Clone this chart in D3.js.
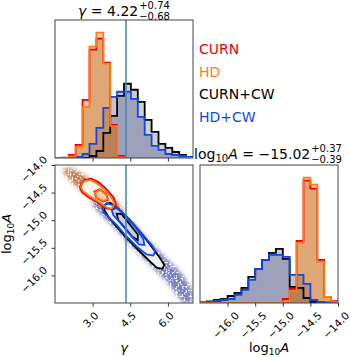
<!DOCTYPE html>
<html><head><meta charset="utf-8">
<script src="https://cdn.jsdelivr.net/npm/d3@7"></script>
<style>
body{margin:0;background:#fff}
svg text{font-family:"DejaVu Sans",sans-serif}
</style></head><body>
<svg id="chart" width="350" height="357"></svg>
<script>
// corner plot of gamma / log10A posteriors, four runs overlaid
const series = ['CURN', 'HD', 'CURN+CW', 'HD+CW'];
const lineColors = ['#e8000b', '#ff7a18', '#000000', '#1048e8'];
const fillColors = ['#c85a1e', '#c87a18', '#404040', '#34408e'];
const fillAlpha = [0.37, 0.37, 0.25, 0.32];

const gammaRange = [1.5, 7.0];
const logARange = [-16.5, -14.0];
const nBins = 20;
const gammaTicks = [3.0, 4.5, 6.0];
const logATicks = [-16.0, -15.5, -15.0, -14.5, -14.0];
const truthGamma = 4.33;

// 1D histogram heights (counts, arbitrary units), 20 bins each
const gammaCURN   = [0, 0.3, 3, 13, 58, 108, 119, 95, 33, 2, 0, 0, 0, 0, 0, 0, 0, 0, 0, 0];
const gammaHD     = [0, 0, 1.5, 11, 51, 111, 125, 94, 32, 0.7, 0, 0, 0, 0, 0, 0, 0, 0, 0, 0];
const gammaCURNCW = [0, 0, 0, 0, 0, 2, 7, 25, 42, 62, 74, 68, 56, 38, 26, 14, 10, 6, 3, 1];
const gammaHDCW   = [0, 0, 0, 1, 4, 14, 30, 50, 61, 66, 66, 59, 41, 23, 12, 8, 4, 3, 2, 1];

const logACURN   = [0, 0, 0, 0, 0, 0, 0, 0, 0, 0, 0, 0, 4, 14, 62, 122, 114, 43, 6, 2];
const logAHD     = [0, 0, 0, 0, 0, 0, 0, 0, 0, 0, 0, 0, 1.5, 12, 60, 125, 118, 41, 6, 1.5];
const logACURNCW = [0.5, 1.5, 3, 4, 7, 10, 15, 26, 34, 43, 50, 54, 44, 16, 15, 5, 1, 0.5, 0, 0];
const logAHDCW   = [0.5, 1, 2, 3, 4, 8, 13, 23, 34, 43, 48, 48, 46, 28, 28, 19, 3, 1, 0.5, 0];

// 2D panel: sample clouds and contour outlines, [gamma, log10A]
const cloudHD = [[1.87,-14.04],[2.30,-14.08],[2.83,-14.23],[3.49,-14.45],[4.02,-14.69],[4.36,-14.94],
  [4.30,-15.10],[4.02,-15.00],[3.63,-14.86],[3.09,-14.67],[2.56,-14.48],[2.10,-14.28],[1.83,-14.13]];
const cloudCW = [[3.09,-14.63],[3.89,-14.79],[4.56,-15.03],[5.22,-15.36],[5.88,-15.66],[6.55,-15.96],
  [6.97,-16.26],[6.97,-16.50],[6.61,-16.50],[5.95,-16.11],[5.29,-15.81],[4.62,-15.51],[3.96,-15.18],
  [3.36,-14.91],[2.96,-14.72]];

const contCURNouter = [[2.54,-14.35],[2.67,-14.27],[2.94,-14.25],[3.23,-14.31],[3.56,-14.44],[3.83,-14.59],
  [3.93,-14.71],[3.83,-14.80],[3.56,-14.79],[3.20,-14.68],[2.86,-14.59],[2.59,-14.50],[2.50,-14.42]];
const contHDouter = [[2.56,-14.36],[2.67,-14.29],[2.90,-14.27],[3.16,-14.33],[3.49,-14.45],[3.76,-14.60],
  [3.87,-14.71],[3.76,-14.79],[3.56,-14.77],[3.23,-14.66],[2.90,-14.57],[2.63,-14.48],[2.54,-14.41]];
const contCURNinner = [[3.07,-14.48],[3.29,-14.44],[3.54,-14.53],[3.62,-14.63],[3.43,-14.66],[3.14,-14.59]];
const contHDinner = [[3.09,-14.50],[3.29,-14.45],[3.52,-14.53],[3.60,-14.62],[3.43,-14.65],[3.16,-14.59]];

const contCURNCWouter = [[3.47,-14.73],[3.69,-14.68],[4.02,-14.79],[4.42,-14.97],[4.89,-15.21],[5.35,-15.48],
  [5.69,-15.69],[5.86,-15.81],[5.78,-15.88],[5.55,-15.86],[5.22,-15.72],[4.82,-15.54],[4.36,-15.33],
  [3.96,-15.12],[3.63,-14.94],[3.47,-14.82]];
const contHDCWouter = [[3.39,-14.77],[3.56,-14.69],[3.83,-14.73],[4.16,-14.85],[4.56,-15.03],[4.95,-15.24],
  [5.35,-15.45],[5.49,-15.56],[5.42,-15.64],[5.15,-15.62],[4.76,-15.48],[4.36,-15.30],[3.96,-15.09],
  [3.63,-14.94],[3.43,-14.86]];
const contCURNCWinner = [[3.96,-14.88],[4.16,-14.89],[4.49,-15.08],[4.80,-15.26],[4.80,-15.36],[4.58,-15.30],
  [4.29,-15.14],[4.02,-15.00]];
const contHDCWinner = [[3.76,-14.82],[3.96,-14.77],[4.29,-14.91],[4.69,-15.12],[5.02,-15.34],[5.06,-15.45],
  [4.85,-15.44],[4.49,-15.26],[4.09,-15.04],[3.83,-14.91]];

const gammaHists = [gammaCURN, gammaHD, gammaCURNCW, gammaHDCW];
const logAHists = [logACURN, logAHD, logACURNCW, logAHDCW];

const svg = d3.select('#chart');
const fmt = d3.format('.1f');

const xG = d3.scaleLinear().domain(gammaRange).range([55, 193]);
const xA = d3.scaleLinear().domain(logARange).range([200, 338]);
const yA = d3.scaleLinear().domain(logARange).range([303, 165]);

const defs = svg.append('defs');
// speckled look for the sample clouds
const sp = defs.append('filter').attr('id', 'speck').attr('x', -0.2).attr('y', -0.2).attr('width', 1.4).attr('height', 1.4);
sp.append('feGaussianBlur').attr('in', 'SourceGraphic').attr('stdDeviation', 2).attr('result', 'b');
sp.append('feTurbulence').attr('type', 'fractalNoise').attr('baseFrequency', 0.5).attr('numOctaves', 1)
  .attr('seed', 4).attr('result', 'n');
sp.append('feColorMatrix').attr('in', 'n').attr('type', 'matrix')
  .attr('values', '0 0 0 0 0  0 0 0 0 0  0 0 0 0 0  0 0 0 5 -1.6').attr('result', 'm');
sp.append('feComposite').attr('in', 'b').attr('in2', 'm').attr('operator', 'in');

function clip(id, x, y, w, h) {
  defs.append('clipPath').attr('id', id).append('rect').attr('x', x).attr('y', y).attr('width', w).attr('height', h);
}
clip('c1', 55, 20, 138, 138);
clip('c2', 55, 165, 138, 138);
clip('c3', 200, 165, 138, 138);

function edges(range) {
  const step = (range[1] - range[0]) / nBins;
  return d3.range(nBins + 1).map(i => range[0] + i * step);
}

function histPanel(hists, range, x, y0, y1, clipId) {
  const e = edges(range);
  const maxH = d3.max(hists.flat());
  const y = d3.scaleLinear().domain([0, maxH * 1.1]).range([y1, y0]);
  const g = svg.append('g').attr('clip-path', `url(#${clipId})`);
  const pts = h => {
    const p = [[e[0], 0]];
    h.forEach((v, i) => { p.push([e[i], v]); p.push([e[i + 1], v]); });
    p.push([e[nBins], 0]);
    return p;
  };
  const area = d3.area().x(d => x(d[0])).y0(y(0)).y1(d => y(d[1]));
  const line = d3.line().x(d => x(d[0])).y(d => y(d[1]));
  const order = [2, 3, 0, 1];
  order.forEach(i => {
    g.append('path').attr('d', area(pts(hists[i])))
      .attr('fill', fillColors[i]).attr('fill-opacity', fillAlpha[i]);
  });
  order.forEach(i => {
    g.append('path').attr('d', line(pts(hists[i])))
      .attr('fill', 'none').attr('stroke', lineColors[i]).attr('stroke-width', 1.8)
      .attr('stroke-linejoin', 'miter');
  });
}

histPanel(gammaHists, gammaRange, xG, 20, 158, 'c1');
histPanel(logAHists, logARange, xA, 165, 303, 'c3');

// 2D panel
const j = svg.append('g').attr('clip-path', 'url(#c2)');
const poly = d3.line().x(d => xG(d[0])).y(d => yA(d[1])).curve(d3.curveLinearClosed);
j.append('path').attr('d', poly(cloudCW)).attr('fill', '#4a50a8').attr('fill-opacity', 0.75).attr('filter', 'url(#speck)');
j.append('path').attr('d', poly(cloudHD)).attr('fill', '#b8602a').attr('fill-opacity', 0.85).attr('filter', 'url(#speck)');

const outer = [
  [contCURNCWouter, '#eeeff3', 2], [contHDCWouter, '#eef0fa', 3],
  [contCURNouter, '#fbf1ea', 0], [contHDouter, '#fff6ee', 1]
];
const inner = [
  [contCURNCWinner, '#c4c6cc', 2], [contHDCWinner, '#c8d0f0', 3],
  [contCURNinner, '#f6c6a8', 0], [contHDinner, '#f8d0a8', 1]
];
outer.forEach(([c, f]) => j.append('path').attr('d', poly(c)).attr('fill', f));
inner.forEach(([c, f]) => j.append('path').attr('d', poly(c)).attr('fill', f));
outer.concat(inner).forEach(([c, f, i]) => j.append('path').attr('d', poly(c))
  .attr('fill', 'none').attr('stroke', lineColors[i]).attr('stroke-width', 1.8));

// truth lines
[[20, 158], [165, 303]].forEach(([a, b]) => {
  svg.append('line').attr('x1', xG(truthGamma)).attr('x2', xG(truthGamma)).attr('y1', a).attr('y2', b)
    .attr('stroke', '#4682b4').attr('stroke-width', 1.5);
});

// frames
[[55, 20], [55, 165], [200, 165]].forEach(([x, y]) => {
  svg.append('rect').attr('x', x).attr('y', y).attr('width', 138).attr('height', 138)
    .attr('fill', 'none').attr('stroke', '#444').attr('stroke-width', 1);
});

// ticks
function ticks(axis, transform) {
  const g = svg.append('g').attr('transform', transform).call(axis.tickSize(3.5).tickFormat(''));
  g.select('.domain').remove();
  g.selectAll('line').attr('stroke', '#333');
}
ticks(d3.axisBottom(xG).tickValues(gammaTicks), 'translate(0,158)');
ticks(d3.axisBottom(xG).tickValues(gammaTicks), 'translate(0,303)');
ticks(d3.axisBottom(xA).tickValues(logATicks), 'translate(0,303)');
ticks(d3.axisLeft(yA).tickValues(logATicks), 'translate(55,0)');

const h = 7.6;
function xLabels(scale, vals, topY) {
  vals.forEach(t => {
    const el = svg.append('text').attr('font-size', 10.5).attr('text-anchor', 'end').text(fmt(t));
    const L = el.node().getComputedTextLength();
    const ax = scale(t) + (L + h) * 0.3536 - 2, ay = topY + h * 0.7071;
    el.attr('x', ax).attr('y', ay).attr('transform', `rotate(-45,${ax},${ay})`);
  });
}
function yLabels(scale, vals, rightX) {
  vals.forEach(t => {
    const el = svg.append('text').attr('font-size', 10.5).attr('text-anchor', 'end').text(fmt(t));
    const L = el.node().getComputedTextLength();
    const ax = rightX, ay = scale(t) + 4 - (L - h) * 0.3536;
    el.attr('x', ax).attr('y', ay).attr('transform', `rotate(-45,${ax},${ay})`);
  });
}
xLabels(xG, gammaTicks, 311);
xLabels(xA, logATicks, 311);
yLabels(yA, logATicks, 48);

// axis labels
svg.append('text').attr('x', 124).attr('y', 352).attr('font-size', 13).attr('text-anchor', 'middle')
  .attr('font-style', 'italic').text('γ');
const xl = svg.append('text').attr('x', 269).attr('y', 352).attr('font-size', 13).attr('text-anchor', 'middle');
xl.append('tspan').text('log');
xl.append('tspan').attr('font-size', 9).attr('dy', 2.5).text('10');
xl.append('tspan').attr('font-style', 'italic').attr('dy', -2.5).text('A');
const yl = svg.append('text').attr('font-size', 13).attr('text-anchor', 'middle')
  .attr('transform', 'translate(11,234) rotate(-90)');
yl.append('tspan').text('log');
yl.append('tspan').attr('font-size', 9).attr('dy', 2.5).text('10');
yl.append('tspan').attr('font-style', 'italic').attr('dy', -2.5).text('A');

// titles with +/- errors
function title(cx, by, build, sup, sub) {
  const t = svg.append('text').attr('y', by).attr('font-size', 14);
  build(t);
  const w = t.node().getComputedTextLength();
  const s1 = svg.append('text').attr('y', by - 7).attr('font-size', 10).text(sup);
  const s2 = svg.append('text').attr('y', by + 3.5).attr('font-size', 10).text(sub);
  const ws = Math.max(s1.node().getComputedTextLength(), s2.node().getComputedTextLength());
  const x0 = cx - (w + 1 + ws) / 2;
  t.attr('x', x0);
  s1.attr('x', x0 + w + 1);
  s2.attr('x', x0 + w + 1);
}
title(124, 16, t => {
  t.append('tspan').attr('font-style', 'italic').text('γ');
  t.append('tspan').text(' = 4.22');
}, '+0.74', '\u22120.68');
title(268, 159, t => {
  t.append('tspan').text('log');
  t.append('tspan').attr('font-size', 10).attr('dy', 2.5).text('10');
  t.append('tspan').attr('font-style', 'italic').attr('dy', -2.5).text('A');
  t.append('tspan').text(' = \u221215.02');
}, '+0.37', '\u22120.39');

// legend
series.forEach((s, i) => {
  svg.append('text').attr('x', 199).attr('y', 54 + i * 22.7).attr('font-size', 14)
    .attr('fill', lineColors[i]).text(s);
});
</script>
</body></html>
